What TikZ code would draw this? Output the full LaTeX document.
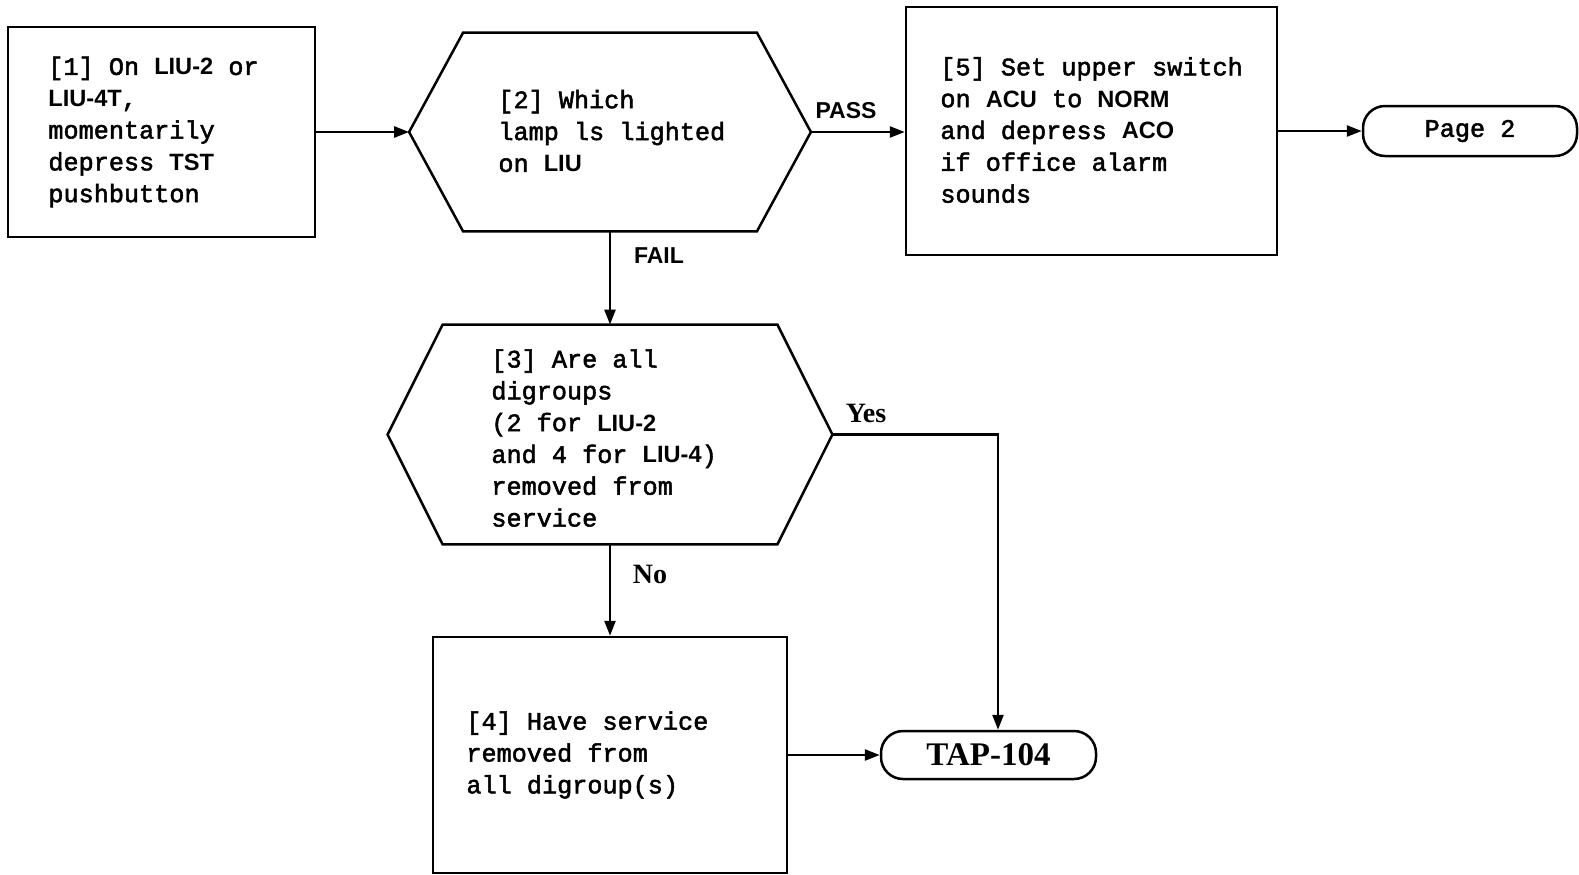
\documentclass[tikz,border=0pt]{standalone}
\usepackage{fontspec}
\setmainfont{Liberation Mono}[FakeBold=2]
\newfontfamily\kwfont{Liberation Sans}
\newfontfamily\lblfont{Liberation Serif}
\usetikzlibrary{arrows.meta,calc}
\newcommand\kwbf[1]{{\kwfont\bfseries\fontsize{11.8}{15.9}\selectfont #1}}
\tikzset{
  stroke/.style={line width=1.25pt},
  flow/.style={stroke, -{Triangle[length=7.5pt,width=5.5pt]}},
  stepbox/.style={draw, stroke, inner sep=0pt},
  hexframe/.style={inner sep=0pt},
  term/.style={draw, stroke, rounded corners=11pt, inner sep=0pt,
    font=\fontsize{12.6}{15.9}\selectfont},
  body/.style={align=left, anchor=west, inner sep=0pt,
    font=\fontsize{12.6}{15.9}\selectfont},
  tag/.style={inner sep=0pt, font=\kwfont\bfseries\fontsize{11.5}{14}\selectfont},
  serifbold/.style={inner sep=0pt, font=\lblfont\bfseries\fontsize{14}{16}\selectfont}
}
% hexagonal decision outline drawn on an invisible frame node
\newcommand\hexoutline[2]{%
  \draw[stroke] (#1.west) -- ($(#1.north west)+(#2,0)$) -- ($(#1.north east)+(-#2,0)$)
    -- (#1.east) -- ($(#1.south east)+(-#2,0)$) -- ($(#1.south west)+(#2,0)$) -- cycle;}
\begin{document}
\begin{tikzpicture}[x=0.5pt,y=-0.5pt]
\useasboundingbox (0,0) rectangle (1579,874);

% steps
\node[stepbox, minimum width=153.5pt, minimum height=105pt] (b1) at (161.5,132) {};
\node[hexframe, minimum width=200.5pt, minimum height=99pt] (h2) at (610,132) {};
\hexoutline{h2}{54}
\node[stepbox, minimum width=185.5pt, minimum height=124pt] (b5) at (1091.5,131) {};
\node[term, minimum width=107pt, minimum height=25pt] (p2) at (1470,131) {Page 2};
\node[hexframe, minimum width=222pt, minimum height=109.5pt] (h3) at (610,434.5) {};
\hexoutline{h3}{55}
\node[stepbox, minimum width=177pt, minimum height=118pt] (b4) at (610,755) {};
\node[term, minimum width=107.5pt, minimum height=24pt, font=\lblfont\bfseries\fontsize{16.5}{18}\selectfont] (tap) at (988.5,755) {TAP-104};

% step texts
\node[body] (t1) at (48,132) {[1] On \kwbf{LIU-2} or\\\kwbf{LIU-4T},\\momentarily\\depress \kwbf{TST}\\pushbutton};
\node[body] (t2) at (498,131) {[2] Which\\lamp ls lighted\\on \kwbf{LIU}};
\node[body] (t5) at (940,130) {[5] Set upper switch\\on \kwbf{ACU} to \kwbf{NORM}\\and depress \kwbf{ACO}\\if office alarm\\sounds};
\node[body] (t3) at (491,438) {[3] Are all\\digroups\\(2 for \kwbf{LIU-2}\\and 4 for \kwbf{LIU-4})\\removed from\\service};
\node[body] (t4) at (466,755) {[4] Have service\\removed from\\all digroup(s)};

% connectors
\draw[flow] (b1.east) -- (h2.west);
\draw[flow] (h2.east) -- (h2.east -| b5.west);
\draw[flow] (b5.east) -- (p2.west);
\draw[flow] (h2.south) -- (h3.north);
\coordinate (ycorner) at (998,434.5);
\draw[flow] (h3.east) -- (ycorner) -- (ycorner |- tap.north);
\draw[flow] (h3.south) -- (b4.north);
\draw[flow] (b4.east) -- (tap.west);

% branch labels
\node[tag] (lpass) at (846,111) {PASS};
\node[tag] (lfail) at (659,256) {FAIL};
\node[serifbold] (lyes) at (866,413) {Yes};
\node[serifbold] (lno) at (650,574) {No};
\end{tikzpicture}
\end{document}
